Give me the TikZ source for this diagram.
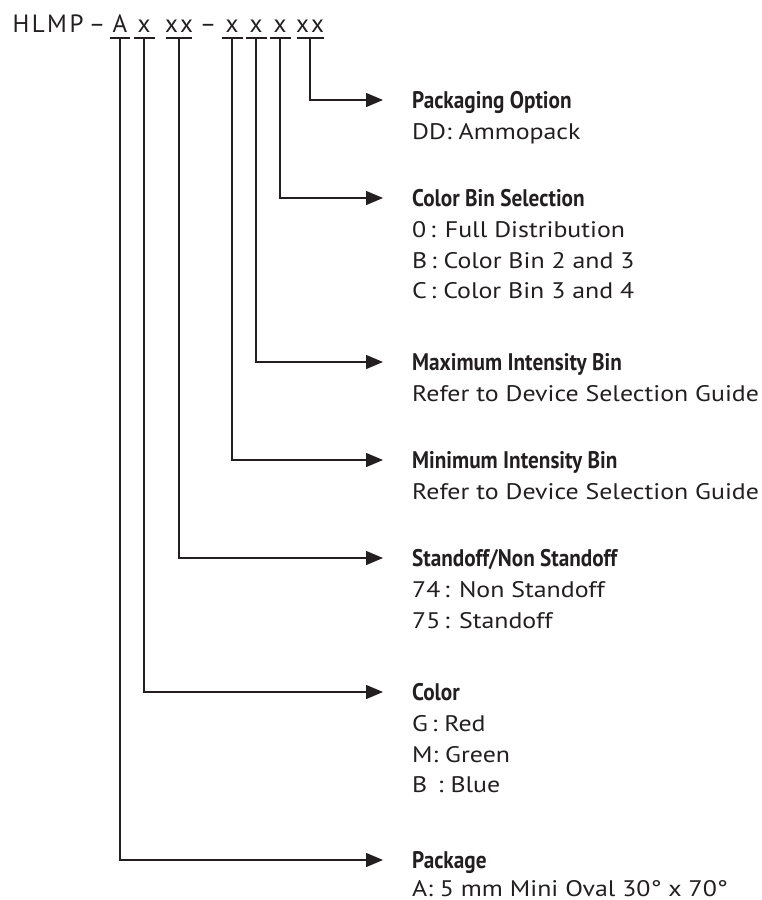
\documentclass[tikz,border=0pt]{standalone}
\usepackage{fontspec}
\setmainfont{PT Sans}
\newfontfamily\hdrfont{PT Sans}[LetterSpace=10]
\newfontfamily\ttlfont{PT Sans}[FakeStretch=0.885]
\newfontfamily\descfont{PT Sans}[FakeStretch=1.15]
\usetikzlibrary{arrows.meta,positioning}
\definecolor{ink}{HTML}{231F20}
\newcommand{\lines}[1]{\begin{tabular}[t]{@{}l@{}}#1\end{tabular}}

\begin{document}
\begin{tikzpicture}[x=1pt, y=-1pt, >={Triangle[length=17pt,width=14pt]},
        hdr/.style={font=\hdrfont\fontsize{25}{25}\selectfont, text=ink, inner sep=0pt, anchor=base},
        ttl/.style={font=\ttlfont\bfseries\fontsize{24}{24}\selectfont, text=ink, inner sep=0pt, text height=17pt, text depth=0pt, anchor=west},
        desc/.style={font=\descfont\fontsize{22.5}{30.5}\selectfont, text=ink, inner sep=0pt, anchor=base west},
        uline/.style={ink, line width=1.3pt},
        conn/.style={->, ink, line width=1.3pt, shorten >=29pt}]
        \useasboundingbox (0,0) rectangle (762,900);

        % part number
        \node[hdr] (hlmp) at (48,32) {HLMP};
        \node[hdr] (dash1) at (97,32) {\textendash};
        \node[hdr] (pA) at (120,32) {A};
        \node[hdr] (pCol) at (144,32) {x};
        \node[hdr] (pStd) at (179,32) {xx};
        \node[hdr] (dash2) at (208,32) {\textendash};
        \node[hdr] (pMin) at (232,32) {x};
        \node[hdr] (pMax) at (256,32) {x};
        \node[hdr] (pBin) at (280,32) {x};
        \node[hdr] (pOpt) at (310,32) {xx};

        \coordinate (uA) at (120,38);
        \coordinate (uCol) at (144,38);
        \coordinate (uStd) at (179,38);
        \coordinate (uMin) at (232,38);
        \coordinate (uMax) at (256,38);
        \coordinate (uBin) at (280,38);
        \coordinate (uOpt) at (310,38);

        \draw[uline] (uA) +(-10,0) -- +(10,0);
        \draw[uline] (uCol) +(-10.5,0) -- +(10.5,0);
        \draw[uline] (uStd) +(-13,0) -- +(13,0);
        \draw[uline] (uMin) +(-10.5,0) -- +(10.5,0);
        \draw[uline] (uMax) +(-10.5,0) -- +(10.5,0);
        \draw[uline] (uBin) +(-10.5,0) -- +(10.5,0);
        \draw[uline] (uOpt) +(-13.5,0) -- +(13.5,0);

        % fields
        \node[ttl] (tOpt) at (412,100) {Packaging Option};
        \node[desc] (dOpt) at ([yshift=-31pt]tOpt.base west) {DD: Ammopack};

        \node[ttl] (tBin) at (412,198) {Color Bin Selection};
        \node[desc] (dBin) at ([yshift=-31pt]tBin.base west) {\lines{0\,: Full Distribution\\B\,: Color Bin 2 and 3\\C\,: Color Bin 3 and 4}};

        \node[ttl] (tMax) at (412,362) {Maximum Intensity Bin};
        \node[desc] (dMax) at ([yshift=-31pt]tMax.base west) {Refer to Device Selection Guide};

        \node[ttl] (tMin) at (412,460) {Minimum Intensity Bin};
        \node[desc] (dMin) at ([yshift=-31pt]tMin.base west) {Refer to Device Selection Guide};

        \node[ttl] (tStd) at (412,558) {Standoff/Non Standoff};
        \node[desc] (dStd) at ([yshift=-31pt]tStd.base west) {\lines{74\,: Non Standoff\\75\,: Standoff}};

        \node[ttl] (tCol) at (412,692) {Color};
        \node[desc] (dCol) at ([yshift=-31pt]tCol.base west) {\lines{G\,: Red\\M: Green\\B\,\ : Blue}};

        \node[ttl] (tPkg) at (412,860) {Package};
        \node[desc] (dPkg) at ([yshift=-28pt]tPkg.base west) {A: 5 mm Mini Oval 30° x 70°};

        \draw[conn] (uOpt) |- (tOpt.west);
        \draw[conn] (uBin) |- (tBin.west);
        \draw[conn] (uMax) |- (tMax.west);
        \draw[conn] (uMin) |- (tMin.west);
        \draw[conn] (uStd) |- (tStd.west);
        \draw[conn] (uCol) |- (tCol.west);
        \draw[conn] (uA) |- (tPkg.west);

    \end{tikzpicture}
\end{document}
